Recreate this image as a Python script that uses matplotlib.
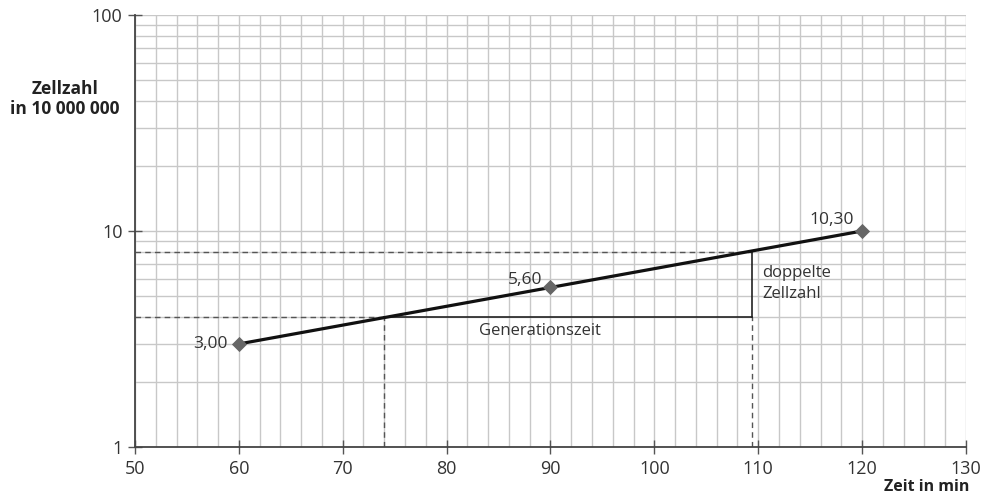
import numpy as np
import matplotlib.pyplot as plt
from matplotlib.ticker import FixedLocator, NullFormatter

# measured values (as drawn) and their printed labels
zeit = [60, 90, 120]
zellzahl = [3.00, 5.50, 10.00]
labels = ['3,00', '5,60', '10,30']

# construction for the doubling time
y_start = 4
y_double = 8
x_start = 74
x_double = 109.4

plt.rcParams['font.family'] = ['Open Sans', 'DejaVu Sans']

fig = plt.figure(figsize=(9.88, 4.98), dpi=100)
ax = fig.add_axes([0.1366, 0.1024, 0.9777 - 0.1366, 0.9699 - 0.1024])

ax.set_yscale('log')
ax.set_xlim(50, 130)
ax.set_ylim(1, 100)

# grid
ax.xaxis.set_major_locator(FixedLocator(np.arange(50, 131, 10)))
ax.xaxis.set_minor_locator(FixedLocator(np.arange(50, 131, 2)))
ax.yaxis.set_major_locator(FixedLocator([1, 10, 100]))
ax.yaxis.set_minor_locator(FixedLocator([m * d for d in (1, 10) for m in range(2, 10)]))
ax.yaxis.set_minor_formatter(NullFormatter())
ax.set_yticklabels(['1', '10', '100'])
ax.grid(True, which='both', color='#c8c8c8', linewidth=1.0, zorder=0)
ax.set_axisbelow(True)

ax.tick_params(which='major', direction='inout', length=10, width=1.0,
               color='#555555', labelsize=13, labelcolor='#333333', pad=4)
ax.tick_params(which='minor', length=0)
for s in ['top', 'right']:
    ax.spines[s].set_visible(False)
for s in ['left', 'bottom']:
    ax.spines[s].set_color('#444444')
    ax.spines[s].set_linewidth(1.3)

# construction lines
dash = dict(color='#555555', linewidth=1.0, linestyle=(0, (4, 3)), zorder=2)
solid = dict(color='#222222', linewidth=1.2, zorder=2)
ax.plot([50, x_start], [y_start, y_start], **dash)
ax.plot([x_start, x_start], [1, y_start], **dash)
ax.plot([50, x_double], [y_double, y_double], **dash)
ax.plot([x_double, x_double], [1, y_start], **dash)
ax.plot([x_start, x_double], [y_start, y_start], **solid)
ax.plot([x_double, x_double], [y_start, y_double], **solid)

# data line and points
ax.plot([zeit[0], zeit[-1]], [zellzahl[0], zellzahl[-1]], color='#111111',
        linewidth=2.3, zorder=3, solid_capstyle='butt')
ax.scatter(zeit, zellzahl, marker='D', s=60, color='#666666', zorder=4,
           linewidths=0)

ax.annotate(labels[0], (zeit[0], zellzahl[0]), xytext=(-8, 0),
            textcoords='offset points', ha='right', va='center',
            fontsize=12.5, color='#333333')
ax.annotate(labels[1], (zeit[1], zellzahl[1]), xytext=(-6, 5),
            textcoords='offset points', ha='right', va='center',
            fontsize=12.5, color='#333333')
ax.annotate(labels[2], (zeit[2], zellzahl[2]), xytext=(-6, 8),
            textcoords='offset points', ha='right', va='center',
            fontsize=12.5, color='#333333')

ax.text(89, 3.45, 'Generationszeit', ha='center',
        va='center', fontsize=12, color='#333333')
ax.text(x_double + 1.0, 5.7, 'doppelte\nZellzahl', ha='left', va='center',
        fontsize=12, color='#333333', linespacing=1.45)

fig.text(65 / 988, 1 - 99 / 498, 'Zellzahl\nin 10 000 000', ha='center',
         va='center', fontsize=12.5, fontweight='bold', color='#222222',
         linespacing=1.15)
fig.text(969 / 988, 1 - 487 / 498, 'Zeit in min', ha='right', va='center',
         fontsize=11.5, fontweight='bold', color='#222222')

fig.savefig('out.png', dpi=100)
